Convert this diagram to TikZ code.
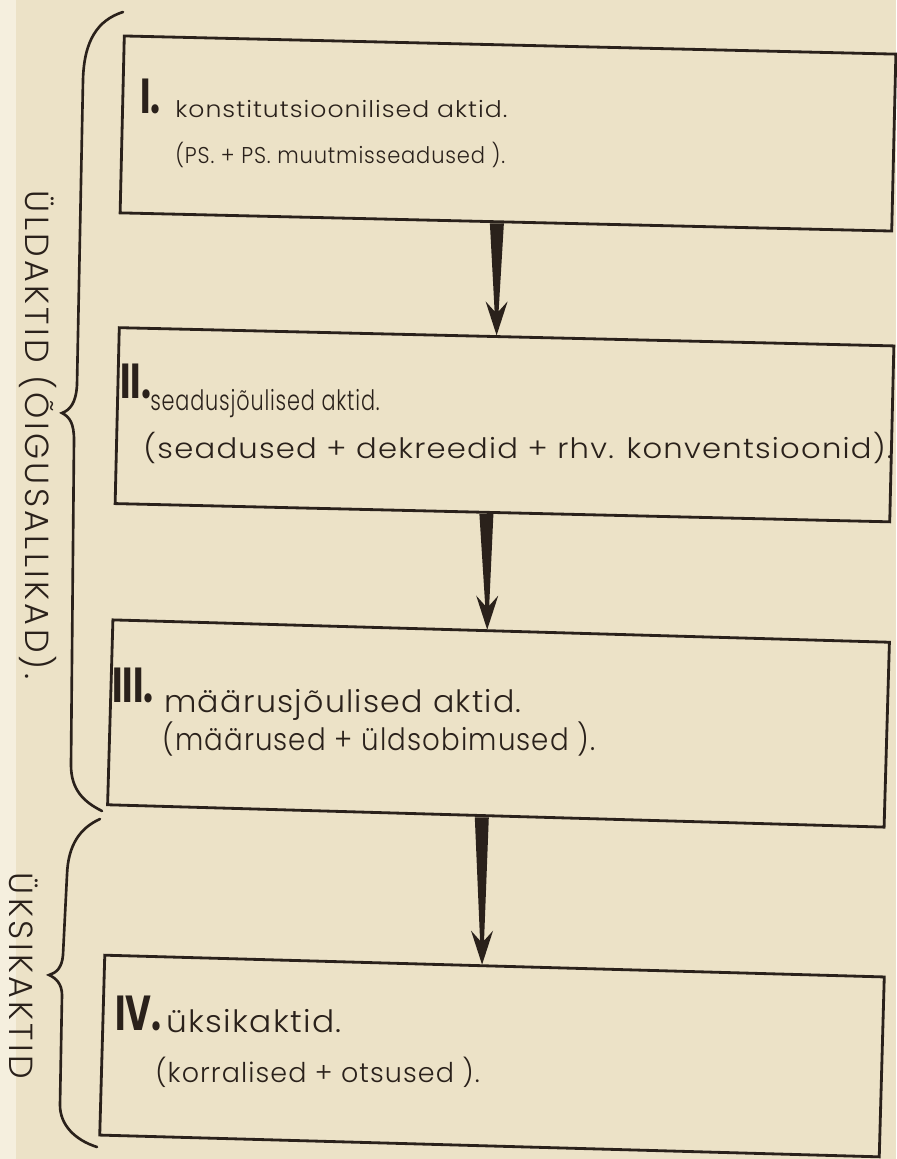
\documentclass[tikz,border=0pt]{standalone}
\usepackage{fontspec}
\setmainfont{Poppins}
\newfontfamily\thinfont{Poppins Light}
\usetikzlibrary{calc}

\definecolor{paper}{RGB}{236,226,199}
\definecolor{pageedge}{RGB}{245,239,222}
\definecolor{ink}{RGB}{42,33,27}

\tikzset{
    box/.style 2 args={draw=ink, line width=1.6pt, inner sep=0pt,
        minimum width=#1, minimum height=#2},
    numeral/.style={anchor=base west, inner sep=0pt, text=ink, xscale=0.72,
        font=\fontsize{28}{28}\selectfont\bfseries},
    line/.style={anchor=base west, inner sep=0pt, text=ink,
        font=\thinfont\fontsize{#1}{#1}\selectfont\addfontfeatures{LetterSpace=4}},
    side/.style={rotate=-90, inner sep=0pt, text=ink,
        font=\thinfont\fontsize{#1}{#1}\selectfont\addfontfeatures{LetterSpace=10}},
    brace/.style={draw=ink, line width=1.5pt, line cap=round},
    taper/.style={to path={
        ($(\tikztostart)+(-7,0)$) -- ($(\tikztostart)+(7,0)$)
        -- ($(\tikztotarget)+(2,-24)$) -- ($(\tikztotarget)+(11,-34)$)
        -- (\tikztotarget) -- ($(\tikztotarget)+(-11,-34)$)
        -- ($(\tikztotarget)+(-2,-24)$) -- cycle}}
}

\begin{document}
\begin{tikzpicture}[x=0.02cm, y=-0.02cm]
    % Paper
    \fill[paper] (0,0) rectangle (896,1159);
    \fill[pageedge] (0,0) rectangle (16,1159);
    \useasboundingbox (0,0) rectangle (896,1159);

    % Draw boxes
    \node (box_1) [box={15.44cm}{3.54cm}, rotate=-1.35] at (508,133.5) {};
    \node (box_2) [box={15.5cm}{3.52cm}, rotate=-1.35] at (504.5,424.75) {};
    \node (box_3) [box={15.54cm}{3.7cm}, rotate=-1.65] at (498.5,723.5) {};
    \node (box_4) [box={15.6cm}{3.6cm}, rotate=-1.6] at (492,1056) {};

    % Texts in the boxes
    \node (num_1) [numeral] at (140,113) {I.};
    \node (txt_1a) [line=13, xscale=1.1] at (175,117) {konstitutsioonilised aktid.};
    \node (txt_1b) [line=13, xscale=0.92] at (175,163) {(PS. + PS. muutmisseadused ).};

    \node (num_2) [numeral] at (120,398) {II.};
    \node (txt_2a) [line=16, xscale=0.74] at (150,410) {seadusjõulised aktid.};
    \node (txt_2b) [line=16, xscale=1.09] at (143,458) {(seadused + dekreedid + rhv. konventsioonid).};

    \node (num_3) [numeral] at (112,702) {III.};
    \node (txt_3a) [line=17.5, xscale=1.03] at (164,712) {määrusjõulised aktid.};
    \node (txt_3b) [line=17.5, xscale=0.9] at (162,750) {(määrused + üldsobimused ).};

    \node (num_4) [numeral] at (115,1030) {IV.};
    \node (txt_4a) [line=17.5, xscale=1.07] at (166,1032) {üksikaktid.};
    \node (txt_4b) [line=15.5, xscale=0.99] at (155,1082) {(korralised + otsused ).};

    % Arrows between boxes
    \coordinate (a_1) at ([xshift=-0.18cm]box_1.south);
    \coordinate (b_1) at ([xshift=-0.2cm]box_2.north);
    \coordinate (a_2) at ([xshift=-0.32cm]box_2.south);
    \coordinate (b_2) at ([xshift=-0.28cm]box_3.north);
    \coordinate (a_3) at ([xshift=-0.28cm]box_3.south);
    \coordinate (b_3) at ([xshift=-0.25cm]box_4.north);
    \fill[ink] (a_1) to[taper] (b_1);
    \fill[ink] (a_2) to[taper] (b_2);
    \fill[ink] (a_3) to[taper] (b_3);

    % Braces
    \draw[brace] (123,12) .. controls (98,20) and (84,40) .. (83,80)
        -- (77,385) .. controls (76,403) and (70,410) .. (62,413)
        .. controls (70,417) and (74,424) .. (74,440)
        -- (71,765) .. controls (71,790) and (84,802) .. (102,811);
    \draw[brace] (100,819) .. controls (80,828) and (68,845) .. (67,875)
        -- (63,955) .. controls (62,968) and (56,973) .. (49,975)
        .. controls (56,978) and (62,984) .. (62,995)
        -- (60,1105) .. controls (60,1125) and (75,1140) .. (97,1147);

    \node (lbl_1) [side=19] at (38,435) {ÜLDAKTID (ÕIGUSALLIKAD).};
    \node (lbl_2) [side=19] at (24,976) {ÜKSIKAKTID};

\end{tikzpicture}
\end{document}
